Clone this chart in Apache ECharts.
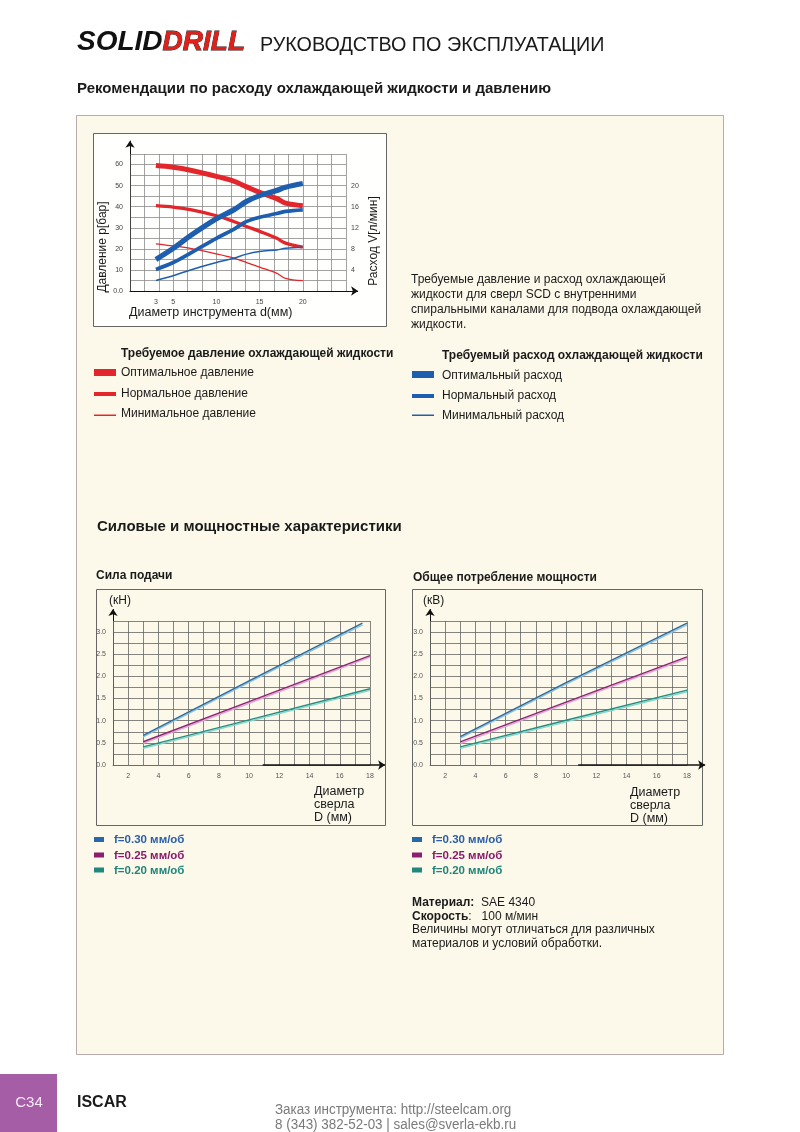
<!DOCTYPE html>
<html><head><meta charset="utf-8">
<script src="https://cdn.jsdelivr.net/npm/echarts@6/dist/echarts.min.js"></script>
<style>html,body{margin:0;padding:0;background:#fff}#c{width:800px;height:1132px}</style>
</head><body><div id="c"></div>
<script>
// ---- Coolant chart (pressure, bar / flow, l/min vs tool diameter, mm) ----
const topX = [3, 5, 7, 10, 12, 13.5, 15, 17, 18, 20];
const pressureOptimal = [59.5, 58.7, 57.3, 54.4, 52.1, 49.4, 46.8, 43.8, 41.7, 40.5];
const pressureNormal  = [40.5, 39.8, 38.6, 35.7, 33.0, 30.6, 28.3, 25.0, 22.7, 20.8];
const pressureMinimal = [22.4, 21.4, 20.2, 17.6, 15.6, 13.5, 11.3, 8.4, 6.0, 4.9];
const flowOptimal = [6.0, 8.1, 10.5, 13.7, 15.4, 17.0, 18.1, 19.1, 19.7, 20.4];
const flowNormal  = [4.1, 5.4, 7.2, 10.0, 11.7, 13.2, 14.0, 14.7, 15.1, 15.4];
const flowMinimal = [2.0, 2.9, 4.0, 5.4, 6.2, 7.0, 7.5, 7.8, 8.1, 8.3];
const topXTicks = [3, 5, 10, 15, 20];
const pressureTicks = [0, 10, 20, 30, 40, 50, 60];
const flowTicks = [4, 8, 12, 16, 20];

// ---- Feed force (kN) and power (kW) vs drill diameter D (mm) ----
const forceX030 = [3, 10, 17.5];
const forceF030 = [0.67, 1.9, 3.2];
const forceX = [3, 10, 18];
const forceF025 = [0.525, 1.43, 2.47];
const forceF020 = [0.41, 1.02, 1.72];
const powerX = [3, 10, 18];
const powerF030 = [0.64, 1.86, 3.2];
const powerF025 = [0.52, 1.42, 2.44];
const powerF020 = [0.41, 1.01, 1.69];
const bottomXTicks = [2, 4, 6, 8, 10, 12, 14, 16, 18];
const bottomYTicks = [0, 0.5, 1.0, 1.5, 2.0, 2.5, 3.0];

const F = '"Liberation Sans", Arial, Helvetica, sans-serif';
const RED = '#e3262b', BLUE = '#1d5fae';
const CREAM = '#fcf9ea';

function pairs(xs, ys) { return xs.map((x, i) => [x, ys[i]]); }

function T(x, y, text, size, o) {
  o = o || {};
  const st = {
    text: text,
    font: (o.bold ? 'bold ' : '') + size + 'px ' + F,
    fill: o.color || '#1a1a1a',
    align: o.align || 'left', textAlign: o.align || 'left',
    verticalAlign: o.va || 'middle', textVerticalAlign: o.va || 'middle'
  };
  if (o.lh) st.lineHeight = o.lh;
  if (o.rich) st.rich = o.rich;
  return { type: 'text', x: x, y: y, z: 100, silent: true, rotation: o.rot || 0,
           scaleX: o.sx || 1, style: st };
}
function R(x, y, w, h, fill, stroke, z) {
  return { type: 'rect', shape: { x: x, y: y, width: w, height: h }, z: z == null ? 1 : z, silent: true,
           style: { fill: fill, stroke: stroke || null, lineWidth: stroke ? 1 : 0 } };
}

const graphics = [
  // page panel
  R(76.5, 115.5, 647, 939, CREAM, '#b9abab', -20),
  // chart boxes
  R(93.5, 133.5, 293, 193, '#fffffd', '#666', -10),
  R(96.5, 589.5, 289, 236, CREAM, '#666', -10),
  R(412.5, 589.5, 290, 236, CREAM, '#666', -10),
  // header
  T(77, 42, '{a|SOLID}{b|DRILL}', 28, { rich: {
      a: { fill: '#111', fontSize: 28, fontWeight: 'bold', fontStyle: 'italic', fontFamily: F },
      b: { fill: '#e0211b', stroke: '#2a0808', lineWidth: 0.8, fontSize: 28, fontWeight: 'bold', fontStyle: 'italic', fontFamily: F }
  } }),
  T(260, 45, 'РУКОВОДСТВО ПО ЭКСПЛУАТАЦИИ', 20, { sx: 0.988 }),
  T(77, 89, 'Рекомендации по расходу охлаждающей жидкости и давлению', 15, { bold: true }),
  // top chart axis titles
  T(103, 247, 'Давление p[бар]', 12, { align: 'center', rot: Math.PI / 2 }),
  T(374, 241, 'Расход V[л/мин]', 12, { align: 'center', rot: Math.PI / 2 }),
  T(129, 313, 'Диаметр инструмента d(мм)', 12.5),
  // paragraph
  T(411, 272.5, 'Требуемые давление и расход охлаждающей\nжидкости для сверл SCD с внутренними\nспиральными каналами для подвода охлаждающей\nжидкости.', 12, { va: 'top', lh: 15 }),
  // pressure legend
  T(121, 354, 'Требуемое давление охлаждающей жидкости', 12, { bold: true }),
  R(94, 369, 22, 7, RED, null, 5),
  R(94, 392, 22, 4, RED, null, 5),
  R(94, 414.5, 22, 1.5, RED, null, 5),
  T(121, 373, 'Оптимальное давление', 12),
  T(121, 393.5, 'Нормальное давление', 12),
  T(121, 414, 'Минимальное давление', 12),
  // flow legend
  T(442, 356, 'Требуемый расход охлаждающей жидкости', 12, { bold: true }),
  R(412, 371, 22, 7, BLUE, null, 5),
  R(412, 394, 22, 4, BLUE, null, 5),
  R(412, 414.5, 22, 1.5, BLUE, null, 5),
  T(442, 375.5, 'Оптимальный расход', 12),
  T(442, 396, 'Нормальный расход', 12),
  T(442, 415.5, 'Минимальный расход', 12),
  // section 2
  T(97, 527, 'Силовые и мощностные характеристики', 15, { bold: true }),
  T(96, 576, 'Сила подачи', 12, { bold: true }),
  T(413, 578, 'Общее потребление мощности', 12, { bold: true }),
  T(109, 601, '(кН)', 12),
  T(423, 601, '(кВ)', 12),
  T(314, 785, 'Диаметр\nсверла\nD (мм)', 12.5, { va: 'top', lh: 13 }),
  T(630, 786, 'Диаметр\nсверла\nD (мм)', 12.5, { va: 'top', lh: 13 }),
  // bottom legends
  R(94, 837, 10, 5, '#2868a8', null, 5),
  R(94, 852.5, 10, 5, '#8a1f6f', null, 5),
  R(94, 867.5, 10, 5, '#22877e', null, 5),
  T(114, 840, 'f=0.30 мм/об', 11.5, { bold: true, color: '#2a5ea8' }),
  T(114, 855.5, 'f=0.25 мм/об', 11.5, { bold: true, color: '#8a1a6a' }),
  T(114, 870.5, 'f=0.20 мм/об', 11.5, { bold: true, color: '#1f857a' }),
  R(412, 837, 10, 5, '#2868a8', null, 5),
  R(412, 852.5, 10, 5, '#8a1f6f', null, 5),
  R(412, 867.5, 10, 5, '#22877e', null, 5),
  T(432, 840, 'f=0.30 мм/об', 11.5, { bold: true, color: '#2a5ea8' }),
  T(432, 855.5, 'f=0.25 мм/об', 11.5, { bold: true, color: '#8a1a6a' }),
  T(432, 870.5, 'f=0.20 мм/об', 11.5, { bold: true, color: '#1f857a' }),
  // material notes
  T(412, 903, '{b|Материал:}  SAE 4340', 12, { rich: { b: { fontWeight: 'bold', fontSize: 12, fontFamily: F, fill: '#1a1a1a' } } }),
  T(412, 916.5, '{b|Скорость}:   100 м/мин', 12, { rich: { b: { fontWeight: 'bold', fontSize: 12, fontFamily: F, fill: '#1a1a1a' } } }),
  T(412, 930, 'Величины могут отличаться для различных', 12),
  T(412, 943.5, 'материалов и условий обработки.', 12),
  // footer
  R(0, 1074, 57, 58, '#a55ea6', null, 1),
  T(29, 1103, 'C34', 15, { align: 'center', color: '#f5e8f5' }),
  T(77, 1103, 'ISCAR', 16, { bold: true }),
  T(275, 1110, 'Заказ инструмента: http://steelcam.org', 14, { color: '#7a7a7a', sx: 0.96 }),
  T(275, 1125, '8 (343) 382-52-03 | sales@sverla-ekb.ru', 14, { color: '#7a7a7a', sx: 0.96 })
];

const gridLine = c => ({ show: true, lineStyle: { color: c, width: 0.8 } });
const smallLbl = (extra) => Object.assign({ fontSize: 7, color: '#444', fontFamily: F }, extra);

function topLine(name, ys, yIdx, color, w) {
  return { name: name, type: 'line', xAxisIndex: 0, yAxisIndex: yIdx, smooth: 0.35, showSymbol: false,
           data: pairs(topX, ys), lineStyle: { color: color, width: w }, itemStyle: { color: color },
           z: yIdx === 1 ? 4 : 3, silent: true };
}
function botLine(name, xs, ys, axis, dark, light) {
  return { name: name, type: 'line', xAxisIndex: axis, yAxisIndex: axis, showSymbol: false,
           data: pairs(xs, ys), silent: true, z: 4,
           lineStyle: { color: dark, width: 1.4, shadowColor: light, shadowOffsetY: 1.6, shadowBlur: 0 },
           itemStyle: { color: dark } };
}
function arrows(axis, segs, widths) {
  return { type: 'lines', coordinateSystem: 'cartesian2d', xAxisIndex: axis, yAxisIndex: axis,
           clip: false, silent: true, z: 6, symbol: ['none', 'arrow'], symbolSize: 7,
           lineStyle: { color: '#111', width: 1, opacity: 1, curveness: 0 },
           data: segs.map((s, i) => ({ coords: s, lineStyle: { width: widths[i] } })) };
}

const option = {
  animation: false,
  backgroundColor: 'transparent',
  textStyle: { fontFamily: F },
  graphic: { elements: graphics },
  grid: [
    { left: 130, top: 154, width: 216, height: 137 },
    { left: 113, top: 621, width: 257, height: 144 },
    { left: 430, top: 621, width: 257, height: 144 }
  ],
  xAxis: [
    { gridIndex: 0, type: 'value', min: 0, max: 25, interval: 5 / 3,
      axisLine: { show: true, lineStyle: { color: '#111', width: 1 } }, axisTick: { show: false },
      axisLabel: { show: false }, splitLine: gridLine('#8c8c8c') },
    { gridIndex: 0, type: 'value', min: 0, max: 25, position: 'bottom',
      axisLine: { show: false }, axisTick: { show: false }, splitLine: { show: false },
      axisLabel: smallLbl({ customValues: topXTicks, margin: 8 }) },
    { gridIndex: 1, type: 'value', min: 1, max: 18, interval: 1,
      axisLine: { show: true, lineStyle: { color: '#666', width: 0.8 } }, axisTick: { show: false },
      splitLine: gridLine('#666'),
      axisLabel: smallLbl({ customValues: bottomXTicks, margin: 8, color: '#555' }) },
    { gridIndex: 2, type: 'value', min: 1, max: 18, interval: 1,
      axisLine: { show: true, lineStyle: { color: '#666', width: 0.8 } }, axisTick: { show: false },
      splitLine: gridLine('#666'),
      axisLabel: smallLbl({ customValues: bottomXTicks, margin: 8, color: '#555' }) }
  ],
  yAxis: [
    { gridIndex: 0, type: 'value', min: 0, max: 65, interval: 5,
      axisLine: { show: true, lineStyle: { color: '#111', width: 1 } }, axisTick: { show: false },
      splitLine: gridLine('#8c8c8c'),
      axisLabel: smallLbl({ customValues: pressureTicks, margin: 7, formatter: v => v === 0 ? '0.0' : String(v) }) },
    { gridIndex: 0, type: 'value', position: 'right', min: 0, max: 26, interval: 2,
      axisLine: { show: true, lineStyle: { color: '#444', width: 1 } }, axisTick: { show: false },
      splitLine: { show: false },
      axisLabel: smallLbl({ customValues: flowTicks, margin: 5 }) },
    { gridIndex: 1, type: 'value', min: 0, max: 3.25, interval: 0.25,
      axisLine: { show: true, lineStyle: { color: '#555', width: 0.8 } }, axisTick: { show: false },
      splitLine: gridLine('#666'),
      axisLabel: smallLbl({ customValues: bottomYTicks, margin: 7, color: '#555', formatter: v => v.toFixed(1) }) },
    { gridIndex: 2, type: 'value', min: 0, max: 3.25, interval: 0.25,
      axisLine: { show: true, lineStyle: { color: '#555', width: 0.8 } }, axisTick: { show: false },
      splitLine: gridLine('#666'),
      axisLabel: smallLbl({ customValues: bottomYTicks, margin: 7, color: '#555', formatter: v => v.toFixed(1) }) }
  ],
  series: [
    topLine('Оптимальное давление', pressureOptimal, 0, RED, 5),
    topLine('Нормальное давление', pressureNormal, 0, RED, 3.3),
    topLine('Минимальное давление', pressureMinimal, 0, RED, 1.3),
    topLine('Оптимальный расход', flowOptimal, 1, BLUE, 5.3),
    topLine('Нормальный расход', flowNormal, 1, BLUE, 3.7),
    topLine('Минимальный расход', flowMinimal, 1, BLUE, 1.5),
    arrows(0, [[[0, 65], [0, 71.3]], [[25, 0], [26.4, 0]]], [1, 1]),
    botLine('Сила f=0.30', forceX030, forceF030, 2, '#2f6a96', '#8cc2e4'),
    botLine('Сила f=0.25', forceX, forceF025, 2, '#8c2476', '#e3a3d3'),
    botLine('Сила f=0.20', forceX, forceF020, 2, '#248c82', '#82d8ca'),
    arrows(2, [[[1, 3.25], [1, 3.52]], [[10.9, 0], [19.0, 0]]], [1, 1.6]),
    botLine('Мощность f=0.30', powerX, powerF030, 3, '#2f6a96', '#8cc2e4'),
    botLine('Мощность f=0.25', powerX, powerF025, 3, '#8c2476', '#e3a3d3'),
    botLine('Мощность f=0.20', powerX, powerF020, 3, '#248c82', '#82d8ca'),
    arrows(3, [[[1, 3.25], [1, 3.52]], [[10.8, 0], [19.2, 0]]], [1, 1.6])
  ]
};

const chart = echarts.init(document.getElementById('c'), null, { renderer: 'canvas', width: 800, height: 1132 });
chart.setOption(option);
</script>
</body></html>
